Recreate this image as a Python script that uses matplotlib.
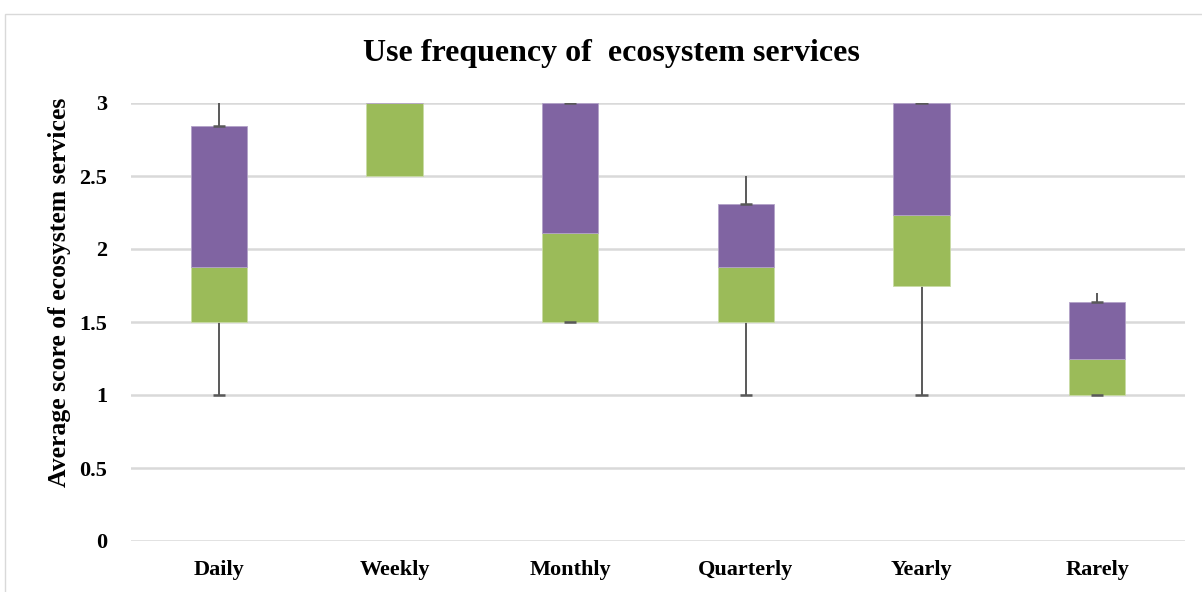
import numpy as np
import matplotlib
matplotlib.use("Agg")
import matplotlib.pyplot as plt
from matplotlib.patches import Rectangle

# Box plot summary per use frequency (built as stacked bars, Excel style)
categories = ["Daily", "Weekly", "Monthly", "Quarterly", "Yearly", "Rarely"]
q1 = [1.5, 2.5, 1.5, 1.5, 1.75, 1.0]
median = [1.88, 3.0, 2.11, 1.88, 2.23, 1.25]
q3 = [2.84, 3.0, 3.0, 2.31, 3.0, 1.64]
whisker_min = [1.0, np.nan, 1.5, 1.0, 1.0, 1.0]
whisker_max = [3.0, np.nan, 3.0, 2.5, 3.0, 1.70]

title = "Use frequency of  ecosystem services"
ylabel = "Average score of ecosystem services"
yticks = [0, 0.5, 1, 1.5, 2, 2.5, 3]

GREEN = "#9BBB59"
PURPLE = "#8064A2"
WHISKER = "#595959"
GRID = "#d9d9d9"

plt.rcParams["font.family"] = ["Liberation Serif", "DejaVu Serif"]
plt.rcParams["font.weight"] = "bold"

fig = plt.figure(figsize=(12.02, 5.92), dpi=100)
fig.patches.append(Rectangle((5 / 1202, -0.1), 1.2, 1 - 14 / 592 + 0.1,
                             transform=fig.transFigure, fill=False,
                             edgecolor=GRID, linewidth=1.0))
ax = fig.add_axes([131 / 1202, 51 / 592, 1054 / 1202, 438 / 592])

x = np.arange(len(categories))
q1 = np.array(q1)
median = np.array(median)
q3 = np.array(q3)
lower = median - q1
upper = q3 - median
width = 0.32

# lower and upper box halves
ax.bar(x, lower, width, bottom=q1, color=GREEN, edgecolor="#c9dba6", linewidth=0.6, zorder=3)
ax.bar(x, upper, width, bottom=median, color=PURPLE, edgecolor="#b3a2c8", linewidth=0.6, zorder=3)

# whiskers: caps at the minimum and at the box top
wmin = np.array(whisker_min)
wmax = np.array(whisker_max)
ok = ~np.isnan(wmin)
cap = 0.035
ax.vlines(x[ok], wmin[ok], q1[ok], color=WHISKER, linewidth=1.4, zorder=2)
ax.vlines(x[ok], q3[ok], wmax[ok], color=WHISKER, linewidth=1.4, zorder=2)
ax.hlines(wmin[ok], x[ok] - cap, x[ok] + cap, color=WHISKER, linewidth=1.8, zorder=4)
ax.hlines(q3[ok], x[ok] - cap, x[ok] + cap, color=WHISKER, linewidth=1.8, zorder=4)

ax.set_xlim(-0.5, len(categories) - 0.5)
ax.set_ylim(0, 3)
ax.set_yticks(yticks)
ax.set_yticklabels([f"{t:g}" for t in yticks], fontsize=16, fontweight="bold")
ax.set_xticks(x)
ax.set_xticklabels(categories, fontsize=16, fontweight="bold")
ax.tick_params(axis="both", length=0)
ax.tick_params(axis="y", pad=17)
ax.tick_params(axis="x", pad=14)
ax.yaxis.grid(True, color=GRID, linewidth=1.8, zorder=0)
ax.set_axisbelow(True)
for s in ax.spines.values():
    s.set_visible(False)

fig.text(60 / 1202, 1 - 292 / 592, ylabel, rotation=90, ha="center", va="center",
         fontsize=18.5, fontweight="bold")
fig.text(611 / 1202, 1 - 53 / 592, title, ha="center", va="center",
         fontsize=23, fontweight="bold")

fig.savefig("out.png", dpi=100)
